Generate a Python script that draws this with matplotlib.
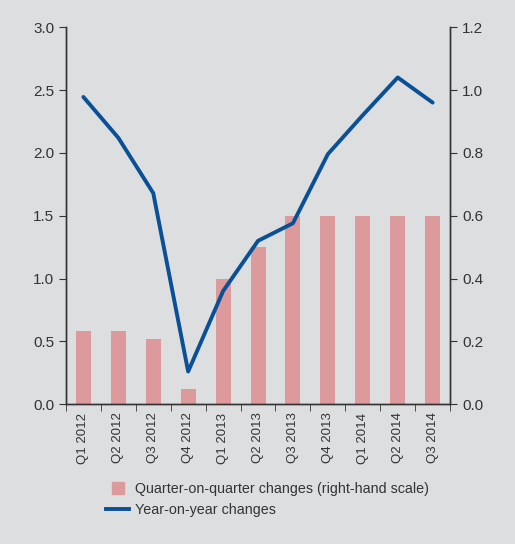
import numpy as np
import matplotlib.pyplot as plt
from matplotlib.lines import Line2D

quarters = ["Q1 2012", "Q2 2012", "Q3 2012", "Q4 2012", "Q1 2013", "Q2 2013",
            "Q3 2013", "Q4 2013", "Q1 2014", "Q2 2014", "Q3 2014"]
qoq_changes = [0.232, 0.232, 0.207, 0.048, 0.40, 0.50, 0.60, 0.60, 0.60, 0.60, 0.60]
yoy_changes = [2.445, 2.12, 1.68, 0.26, 0.90, 1.30, 1.44, 1.99, 2.30, 2.60, 2.40]

bg = "#dcdee0"
bar_color = "#dc9a9c"
line_color = "#0a5096"
txt = "#333333"

plt.rcParams['font.family'] = ['Liberation Sans', 'DejaVu Sans']
plt.rcParams['font.size'] = 10.5

fig = plt.figure(figsize=(5.15, 5.44), dpi=100, facecolor=bg)
ax = fig.add_axes([0.128, 0.257, 0.746, 0.693])
ax.set_facecolor(bg)
ax2 = ax.twinx()

x = np.arange(len(quarters))
ax2.bar(x, qoq_changes, width=0.43, color=bar_color, zorder=1)
ax.plot(x, yoy_changes, color=line_color, lw=2.8, solid_capstyle='round', zorder=3)

# line on top of bars
ax.set_zorder(ax2.get_zorder() + 1)
ax.patch.set_visible(False)
ax2.patch.set_facecolor(bg)

ax.set_xlim(-0.5, len(quarters) - 0.5)
ax.set_ylim(0, 3.0)
ax2.set_ylim(0, 1.2)
ax.set_yticks(np.arange(0, 3.01, 0.5))
ax2.set_yticks(np.arange(0, 1.21, 0.2))
ax.yaxis.set_major_formatter(plt.FormatStrFormatter('%.1f'))
ax2.yaxis.set_major_formatter(plt.FormatStrFormatter('%.1f'))

ax.set_xticks(x)
ax.set_xticklabels(quarters, rotation=90, fontsize=9.5, color=txt)
ax.set_xticks(np.arange(-0.5, len(quarters)), minor=True)
ax.tick_params(axis='x', which='major', length=0, pad=6)
ax.tick_params(axis='x', which='minor', length=5, color=txt)
ax.tick_params(axis='y', length=5, color=txt, labelcolor=txt, labelsize=11)
ax2.tick_params(axis='y', length=5, color=txt, labelcolor=txt, labelsize=11)
ax2.tick_params(axis='x', length=0)

for a in (ax, ax2):
    a.spines['top'].set_visible(False)
    for s in ('left', 'right', 'bottom'):
        a.spines[s].set_color(txt)
        a.spines[s].set_linewidth(1.0)

handles = [Line2D([], [], marker='s', ls='none', color=bar_color, markersize=9),
           Line2D([], [], color=line_color, lw=2.8)]
labels = ["Quarter-on-quarter changes (right-hand scale)", "Year-on-year changes"]
leg = fig.legend(handles, labels, loc='upper left', bbox_to_anchor=(0.195, 0.124),
                 frameon=False, handlelength=1.6, handletextpad=0.45,
                 labelspacing=0.45, fontsize=10.3, borderaxespad=0)
for t in leg.get_texts():
    t.set_color(txt)

fig.savefig("out.png", dpi=100, facecolor=bg)
